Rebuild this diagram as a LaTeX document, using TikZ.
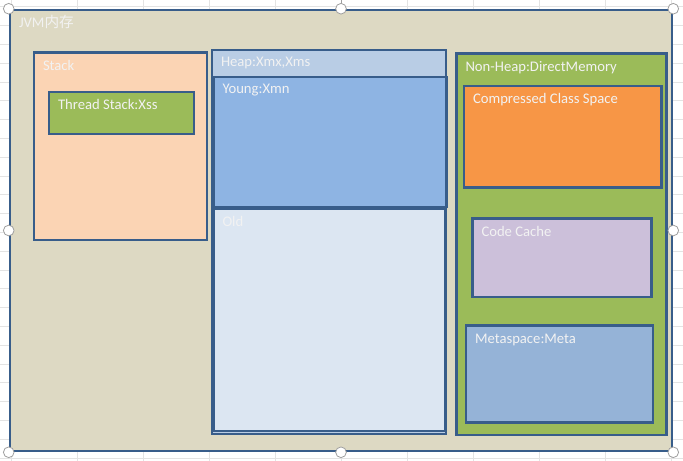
\documentclass[tikz,border=0pt]{standalone}
\usepackage{fontspec}
\setmainfont{Carlito}
\newfontfamily\cjk{Noto Sans CJK SC}
\usetikzlibrary{fit}
\definecolor{edge}{HTML}{385D8A}
\definecolor{jvmfill}{HTML}{DDD9C3}
\definecolor{stackfill}{HTML}{FBD4B4}
\definecolor{leaf}{HTML}{9BBB59}
\definecolor{heapfill}{HTML}{B9CDE5}
\definecolor{youngfill}{HTML}{8EB4E3}
\definecolor{oldfill}{HTML}{DCE6F2}
\definecolor{ccsfill}{HTML}{F79646}
\definecolor{cachefill}{HTML}{CCC0DA}
\definecolor{metafill}{HTML}{95B3D7}
\definecolor{labelgray}{HTML}{F2F2F2}
\definecolor{gridgray}{HTML}{E3E3E3}
\tikzset{
    box/.style={draw=edge, line width=1.9pt, inner sep=0pt},
    txt/.style={anchor=base west, inner sep=0pt, text=labelgray, font=\fontsize{11}{13}\selectfont},
    handle/.style={circle, draw=gray!75, fill=white, line width=0.6pt, minimum size=8pt, inner sep=0pt},
}
\begin{document}
\begin{tikzpicture}[x=0.75pt,y=-0.75pt]
    \useasboundingbox (0,0) rectangle (683,461);
    % sheet grid
    \foreach \gx in {11,77,...,671}
        \draw[gridgray, line width=0.6pt] (\gx,0) -- (\gx,461);
    \foreach \gy in {0,...,24}
        \draw[gridgray, line width=0.6pt] (0,6.8+18.8*\gy) -- (683,6.8+18.8*\gy);
    % regions
    \node[box, fill=jvmfill, fit={(10,10) (672,451)}] (jvm) {};
    \node[box, fill=stackfill, fit={(34,52.5) (207,240)}] (stack) {};
    \node[box, fill=leaf, fit={(49,92) (194,134)}] (thread) {};
    \node[box, fill=heapfill, fit={(212,50) (446,434)}] (heap) {};
    \node[box, fill=youngfill, fit={(213.5,77) (446.5,207)}] (young) {};
    \node[box, fill=oldfill, fit={(213.5,209) (445.5,431)}] (old) {};
    \node[box, fill=leaf, fit={(456.5,53.5) (666.5,435)}] (nonheap) {};
    \node[box, fill=ccsfill, fit={(464,86) (661.5,187.5)}] (ccs) {};
    \node[box, fill=cachefill, fit={(472.5,218.5) (651.5,297)}] (cache) {};
    \node[box, fill=metafill, fit={(466,325.5) (653,422.5)}] (meta) {};
    % labels
    \node[txt] (jvmlbl) at ([shift={(10,19)}]jvm.north west) {JVM{\cjk 内存}};
    \node[txt] (stacklbl) at ([shift={(10,19)}]stack.north west) {Stack};
    \node[txt] (threadlbl) at ([shift={(10,19)}]thread.north west) {Thread Stack:Xss};
    \node[txt] (heaplbl) at ([shift={(10,18)}]heap.north west) {Heap:Xmx,Xms};
    \node[txt] (younglbl) at ([shift={(10,18)}]young.north west) {Young:Xmn};
    \node[txt] (oldlbl) at ([shift={(10,19)}]old.north west) {Old};
    \node[txt] (nonheaplbl) at ([shift={(10,19)}]nonheap.north west) {Non-Heap:DirectMemory};
    \node[txt] (ccslbl) at ([shift={(10,19)}]ccs.north west) {Compressed Class Space};
    \node[txt] (cachelbl) at ([shift={(10,19)}]cache.north west) {Code Cache};
    \node[txt] (metalbl) at ([shift={(10,19)}]meta.north west) {Metaspace:Meta};
    % selection handles
    \coordinate (rot) at (341,0);
    \draw[gray!75, line width=0.6pt] (rot) -- (jvm.north);
    \node[handle] (hnw) at (jvm.north west) {};
    \node[handle] (hn) at (jvm.north) {};
    \node[handle] (hne) at (jvm.north east) {};
    \node[handle] (hw) at (jvm.west) {};
    \node[handle] (he) at (jvm.east) {};
    \node[handle] (hsw) at (jvm.south west) {};
    \node[handle] (hs) at (jvm.south) {};
    \node[handle] (hse) at (jvm.south east) {};
\end{tikzpicture}
\end{document}
